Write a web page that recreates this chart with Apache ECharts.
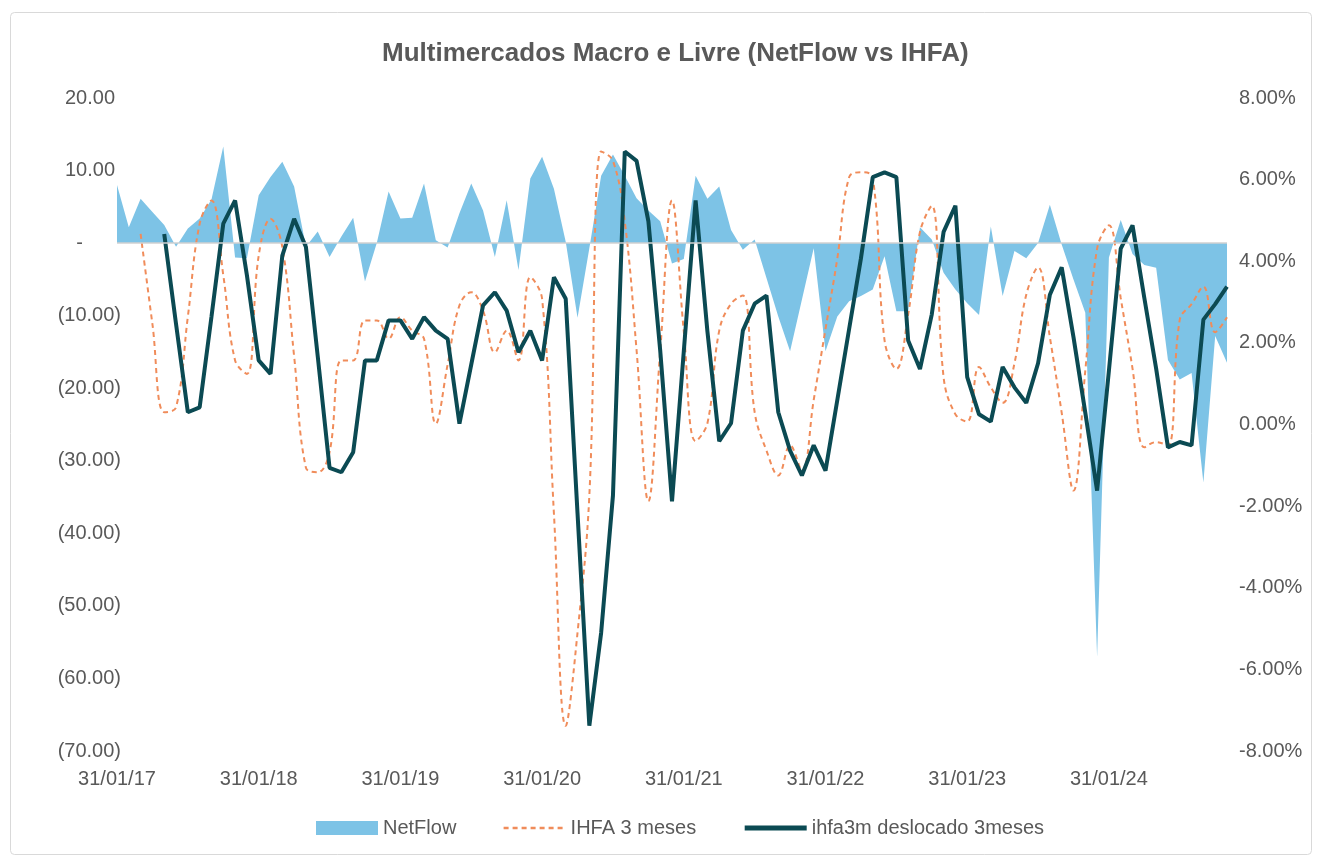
<!DOCTYPE html>
<html>
<head>
<meta charset="utf-8">
<title>Multimercados Macro e Livre</title>
<script src="https://cdn.jsdelivr.net/npm/echarts@6/dist/echarts.min.js"></script>
<style>
* { margin: 0; padding: 0; }
html, body { background: #fff; }
#chart { width: 1318px; height: 859px; }
</style>
</head>
<body>
<div id="chart"></div>
<script>
// monthly, 31/01/17 .. 30/11/24
var startYear = 2017
var monthCount = 95

// NetFlow (R$ bi), left axis
var netFlow = [
  8.0, 2.2, 6.1, 4.3, 2.5, -0.5, 2.0, 3.4, 6.0, 13.3, -2.0, -2.1,
  6.6, 9.1, 11.2, 7.8, -0.5, 1.6, -1.9, 0.9, 3.5, -5.3, 0.0, 7.1,
  3.4, 3.5, 8.2, 0.4, -0.6, 4.1, 8.2, 4.5, -1.9, 5.9, -3.7, 8.9,
  11.9, 7.5, 0.2, -10.3, -0.7, 9.3, 12.2, 9.3, 6.2, 4.5, 3.0, -2.8,
  -2.2, 9.3, 6.1, 7.8, 1.8, -0.9, 0.5, -4.8, -10.1, -14.9, -7.8, -0.7,
  -14.9, -10.1, -8.0, -7.3, -6.4, -1.8, -9.4, -9.4, 2.2, 0.5, -4.1, -6.4,
  -8.3, -9.9, 2.3, -7.3, -1.1, -2.1, 0.0, 5.3, -0.2, -5.0, -9.6, -57.0,
  -2.0, 3.2, -1.5, -3.0, -3.4, -16.1, -18.8, -17.9, -33.0, -12.8, -16.5
]

// IHFA 3 meses (%), right axis
var ihfa3m = [
  null, null, 4.67, 2.46, 0.30, 0.42, 2.64, 4.92, 5.49, 3.66, 1.57, 1.24,
  4.14, 5.04, 4.35, 1.67, -1.06, -1.17, -0.68, 1.57, 1.57, 2.55, 2.55, 2.10,
  2.63, 2.30, 2.10, 0.02, 1.47, 2.92, 3.24, 2.79, 1.77, 2.30, 1.57, 3.61,
  3.08, -2.18, -7.38, -5.10, -1.74, 6.69, 6.46, 4.98, 1.82, -1.88, 1.80, 5.49,
  2.28, -0.41, 0.03, 2.30, 2.96, 3.16, 0.30, -0.64, -1.25, -0.51, -1.13, 0.60,
  2.34, 4.07, 6.06, 6.18, 6.06, 2.06, 1.36, 2.70, 4.72, 5.36, 1.16, 0.25,
  0.07, 1.41, 0.91, 0.53, 1.50, 3.18, 3.85, 2.14, 0.29, -1.62, 1.32, 4.31,
  4.88, 3.10, 1.37, -0.56, -0.43, -0.51, 2.57, 2.95, 3.38, 2.26, 2.63
]

// ihfa3m deslocado (%), right axis
var ihfaShifted = [
  null, null, null, null, 4.67, 2.46, 0.30, 0.42, 2.64, 4.92, 5.49, 3.66,
  1.57, 1.24, 4.14, 5.04, 4.35, 1.67, -1.06, -1.17, -0.68, 1.57, 1.57, 2.55,
  2.55, 2.10, 2.63, 2.30, 2.10, 0.02, 1.47, 2.92, 3.24, 2.79, 1.77, 2.30,
  1.57, 3.61, 3.08, -2.18, -7.38, -5.10, -1.74, 6.69, 6.46, 4.98, 1.82, -1.88,
  1.80, 5.49, 2.28, -0.41, 0.03, 2.30, 2.96, 3.16, 0.30, -0.64, -1.25, -0.51,
  -1.13, 0.60, 2.34, 4.07, 6.06, 6.18, 6.06, 2.06, 1.36, 2.70, 4.72, 5.36,
  1.16, 0.25, 0.07, 1.41, 0.91, 0.53, 1.50, 3.18, 3.85, 2.14, 0.29, -1.62,
  1.32, 4.31, 4.88, 3.10, 1.37, -0.56, -0.43, -0.51, 2.57, 2.95, 3.38
]

var seriesNames = ['NetFlow', 'IHFA 3 meses', 'ihfa3m deslocado 3meses']

// month-end dates dd/mm/yy
var dates = []
for (var k = 0; k < monthCount; k++) {
  var y = startYear + Math.floor(k / 12)
  var m = k % 12 + 1
  var d = new Date(y, m, 0).getDate()
  dates.push(('0' + d).slice(-2) + '/' + ('0' + m).slice(-2) + '/' + String(y).slice(-2))
}

var font = '"Liberation Sans", Arial, sans-serif'
var grey = '#595959'

var leftLabel = function (v) {
  if (v === 0) return '{z|-}'
  if (v < 0) return '(' + Math.abs(v).toFixed(2) + ')'
  return '{p|' + v.toFixed(2) + '}'
}

var option = {
  animation: false,
  backgroundColor: '#fff',
  textStyle: { fontFamily: font },
  graphic: [{
    type: 'rect',
    shape: { x: 10.5, y: 12.5, width: 1301, height: 842, r: 4 },
    style: { fill: 'none', stroke: '#d9d9d9', lineWidth: 1 },
    silent: true
  }],
  title: {
    text: 'Multimercados Macro e Livre (NetFlow vs IHFA)',
    left: 377,
    top: 36,
    textStyle: { fontFamily: font, fontSize: 26, fontWeight: 'bold', color: grey }
  },
  legend: {
    bottom: 16,
    left: 311,
    itemWidth: 62,
    itemHeight: 14,
    itemGap: 46,
    textStyle: { fontFamily: font, fontSize: 20, color: grey },
    data: [
      { name: seriesNames[0], icon: 'rect' },
      { name: seriesNames[1], itemStyle: { opacity: 0 }, lineStyle: { width: 2.5 } },
      { name: seriesNames[2], itemStyle: { opacity: 0 }, lineStyle: { width: 5 } }
    ]
  },
  grid: { left: 117, right: 91, top: 98, bottom: 108 },
  xAxis: {
    type: 'category',
    data: dates,
    boundaryGap: false,
    axisLine: { show: false },
    axisTick: { show: false },
    axisLabel: {
      interval: function (i) { return i % 12 === 0 },
      margin: 18,
      fontFamily: font,
      fontSize: 20,
      color: grey
    }
  },
  yAxis: [
    {
      type: 'value',
      min: -70,
      max: 20,
      interval: 10,
      splitLine: { show: false },
      axisLine: { show: false },
      axisTick: { show: false },
      axisLabel: {
        margin: -4,
        fontFamily: font,
        fontSize: 20,
        color: grey,
        formatter: leftLabel,
        rich: {
          p: { fontFamily: font, fontSize: 20, color: grey, padding: [0, 6, 0, 0] },
          z: { fontFamily: font, fontSize: 20, color: grey, padding: [0, 38, 0, 0] }
        }
      }
    },
    {
      type: 'value',
      min: -8,
      max: 8,
      interval: 2,
      splitLine: { show: false },
      axisLine: { show: false },
      axisTick: { show: false },
      axisLabel: {
        margin: 12,
        fontFamily: font,
        fontSize: 20,
        color: grey,
        formatter: function (v) { return v.toFixed(2) + '%' }
      }
    }
  ],
  series: [
    {
      name: seriesNames[0],
      type: 'line',
      yAxisIndex: 0,
      data: netFlow,
      symbol: 'none',
      itemStyle: { color: '#7DC3E6' },
      lineStyle: { width: 0 },
      areaStyle: { color: '#7DC3E6', opacity: 1 },
      z: 1,
      markLine: {
        silent: true,
        symbol: ['none', 'none'],
        label: { show: false },
        lineStyle: { color: '#d0d0d0', width: 1.5, type: 'solid' },
        data: [{ yAxis: 0 }]
      }
    },
    {
      name: seriesNames[1],
      type: 'line',
      yAxisIndex: 1,
      data: ihfa3m,
      symbol: 'none',
      smooth: 0.4,
      itemStyle: { color: '#F08C5A' },
      lineStyle: { color: '#F08C5A', width: 2, type: [5, 4] },
      z: 3
    },
    {
      name: seriesNames[2],
      type: 'line',
      yAxisIndex: 1,
      data: ihfaShifted,
      symbol: 'none',
      itemStyle: { color: '#0B4A53' },
      lineStyle: { color: '#0B4A53', width: 4 },
      z: 4
    }
  ]
}

var chart = echarts.init(document.getElementById('chart'))
chart.setOption(option)
</script>
</body>
</html>
